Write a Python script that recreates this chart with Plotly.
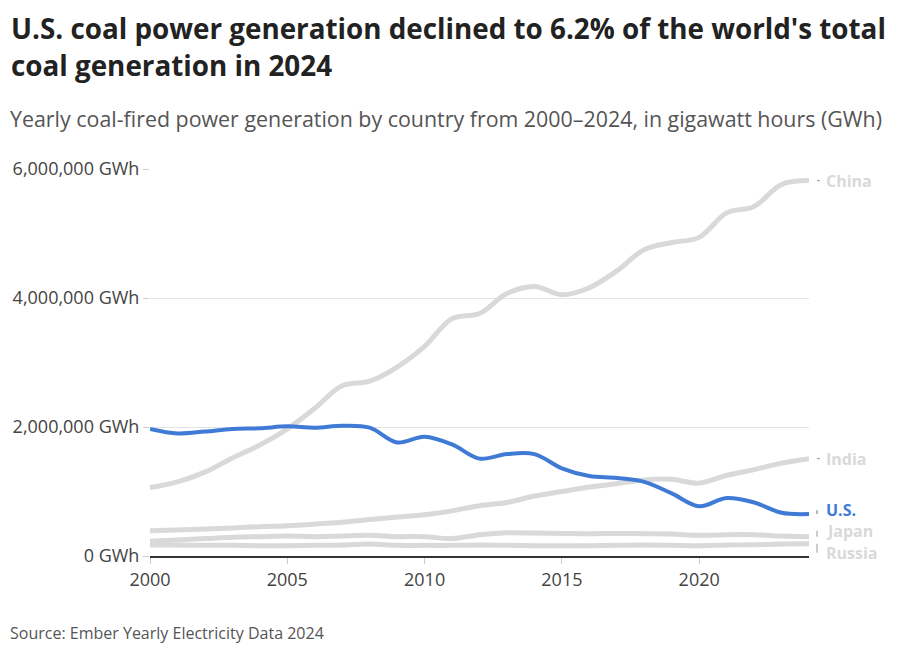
import plotly.graph_objects as go

years = list(range(2000, 2025))
china = [1060000, 1150000, 1300000, 1520000, 1720000, 1970000, 2290000, 2640000, 2710000, 2930000,
         3250000, 3680000, 3760000, 4070000, 4180000, 4050000, 4160000, 4420000, 4750000, 4860000,
         4940000, 5320000, 5420000, 5760000, 5820000]
india = [390000, 405000, 420000, 435000, 455000, 470000, 495000, 525000, 565000, 605000,
         640000, 700000, 780000, 830000, 930000, 1000000, 1070000, 1120000, 1180000, 1190000,
         1130000, 1250000, 1340000, 1440000, 1510000]
us = [1970000, 1900000, 1930000, 1970000, 1980000, 2010000, 1990000, 2020000, 1990000, 1760000,
      1850000, 1730000, 1510000, 1580000, 1580000, 1360000, 1240000, 1210000, 1150000, 970000,
      770000, 900000, 830000, 670000, 650000]
japan = [230000, 250000, 270000, 290000, 300000, 310000, 300000, 310000, 320000, 300000,
         300000, 270000, 330000, 360000, 355000, 350000, 345000, 350000, 345000, 340000,
         320000, 330000, 330000, 310000, 300000]
russia = [170000, 170000, 165000, 165000, 160000, 160000, 165000, 170000, 185000, 165000,
          165000, 165000, 170000, 165000, 160000, 160000, 160000, 165000, 170000, 165000,
          160000, 170000, 175000, 185000, 190000]

series = [("Russia", russia), ("Japan", japan), ("India", india), ("China", china), ("U.S.", us)]
label_y = {"China": 5820000, "India": 1510000, "U.S.": 710000, "Japan": 390000, "Russia": 50000}
y_ticks = [0, 2000000, 4000000, 6000000]
y_tick_text = ["{:,} GWh".format(v) for v in y_ticks]
x_ticks = [2000, 2005, 2010, 2015, 2020]

GREY = "#d9d9d9"
BLUE = "#3f7bd6"
YMAX = 6000000
FONT = "Open Sans"
PW, PH = 659, 387  # plot area size in px

fig = go.Figure()
for name, vals in series:
    is_us = name == "U.S."
    fig.add_trace(go.Scatter(
        x=years, y=vals, mode="lines", name=name, line_shape="spline",
        line=dict(color=BLUE if is_us else GREY, width=4 if is_us else 5),
        hoverinfo="skip", showlegend=False))

annotations = []
shapes = []
for name, vals in series:
    is_us = name == "U.S."
    end = vals[-1]
    ly = label_y[name]
    annotations.append(dict(
        xref="paper", yref="paper", x=1 + 15 / PW, y=ly / YMAX, xanchor="left", yanchor="middle",
        text="<b>%s</b>" % name, showarrow=False,
        font=dict(family=FONT, size=16, color=BLUE if is_us else GREY)))
    straight = name in ("China", "India")
    shapes.append(dict(type="line", xref="paper", yref="paper",
                       x0=1 + 8 / PW, x1=1 + 11 / PW if straight else 1 + 8 / PW,
                       y0=end / YMAX, y1=end / YMAX if straight else ly / YMAX,
                       line=dict(color="#aaaaaa" if not is_us else "#888888", width=1.2)))

annotations += [
    dict(xref="paper", yref="paper", x=-141 / PW, y=1 + (169 - 28) / PH, xanchor="left", yanchor="middle",
         text="<b>U.S. coal power generation declined to 6.2% of the world's total</b>", showarrow=False,
         font=dict(family=FONT, size=27.8, color="#222222")),
    dict(xref="paper", yref="paper", x=-141 / PW, y=1 + (169 - 65) / PH, xanchor="left", yanchor="middle",
         text="<b>coal generation in 2024</b>", showarrow=False,
         font=dict(family=FONT, size=27.8, color="#222222")),
    dict(xref="paper", yref="paper", x=-142 / PW, y=1 + (169 - 118) / PH, xanchor="left", yanchor="middle",
         text="Yearly coal-fired power generation by country from 2000–2024, in gigawatt hours (GWh)",
         showarrow=False, font=dict(family=FONT, size=21.4, color="#555555")),
    dict(xref="paper", yref="paper", x=-142 / PW, y=-(633 - 556) / PH, xanchor="left", yanchor="middle",
         text="Source: Ember Yearly Electricity Data 2024", showarrow=False,
         font=dict(family=FONT, size=16, color="#555555")),
]

fig.update_layout(
    width=900, height=652,
    margin=dict(l=142, r=99, t=161, b=104),
    paper_bgcolor="white", plot_bgcolor="white",
    font=dict(family=FONT, color="#444444"),
    annotations=annotations, shapes=shapes,
    xaxis=dict(range=[2000, 2024], tickvals=x_ticks, showgrid=False, zeroline=False,
               showline=True, linecolor="#333333", linewidth=2, automargin=False,
               ticks="outside", ticklen=6, tickcolor="#cccccc",
               tickfont=dict(family=FONT, size=18, color="#444444")),
    yaxis=dict(range=[0, YMAX], tickvals=y_ticks, ticktext=y_tick_text, automargin=False,
               showgrid=True, gridcolor="#e4e4e4", gridwidth=1, zeroline=False,
               ticks="outside", ticklen=6, tickcolor="#cccccc",
               tickfont=dict(family=FONT, size=18, color="#444444")),
)

fig.write_html("out.html")
